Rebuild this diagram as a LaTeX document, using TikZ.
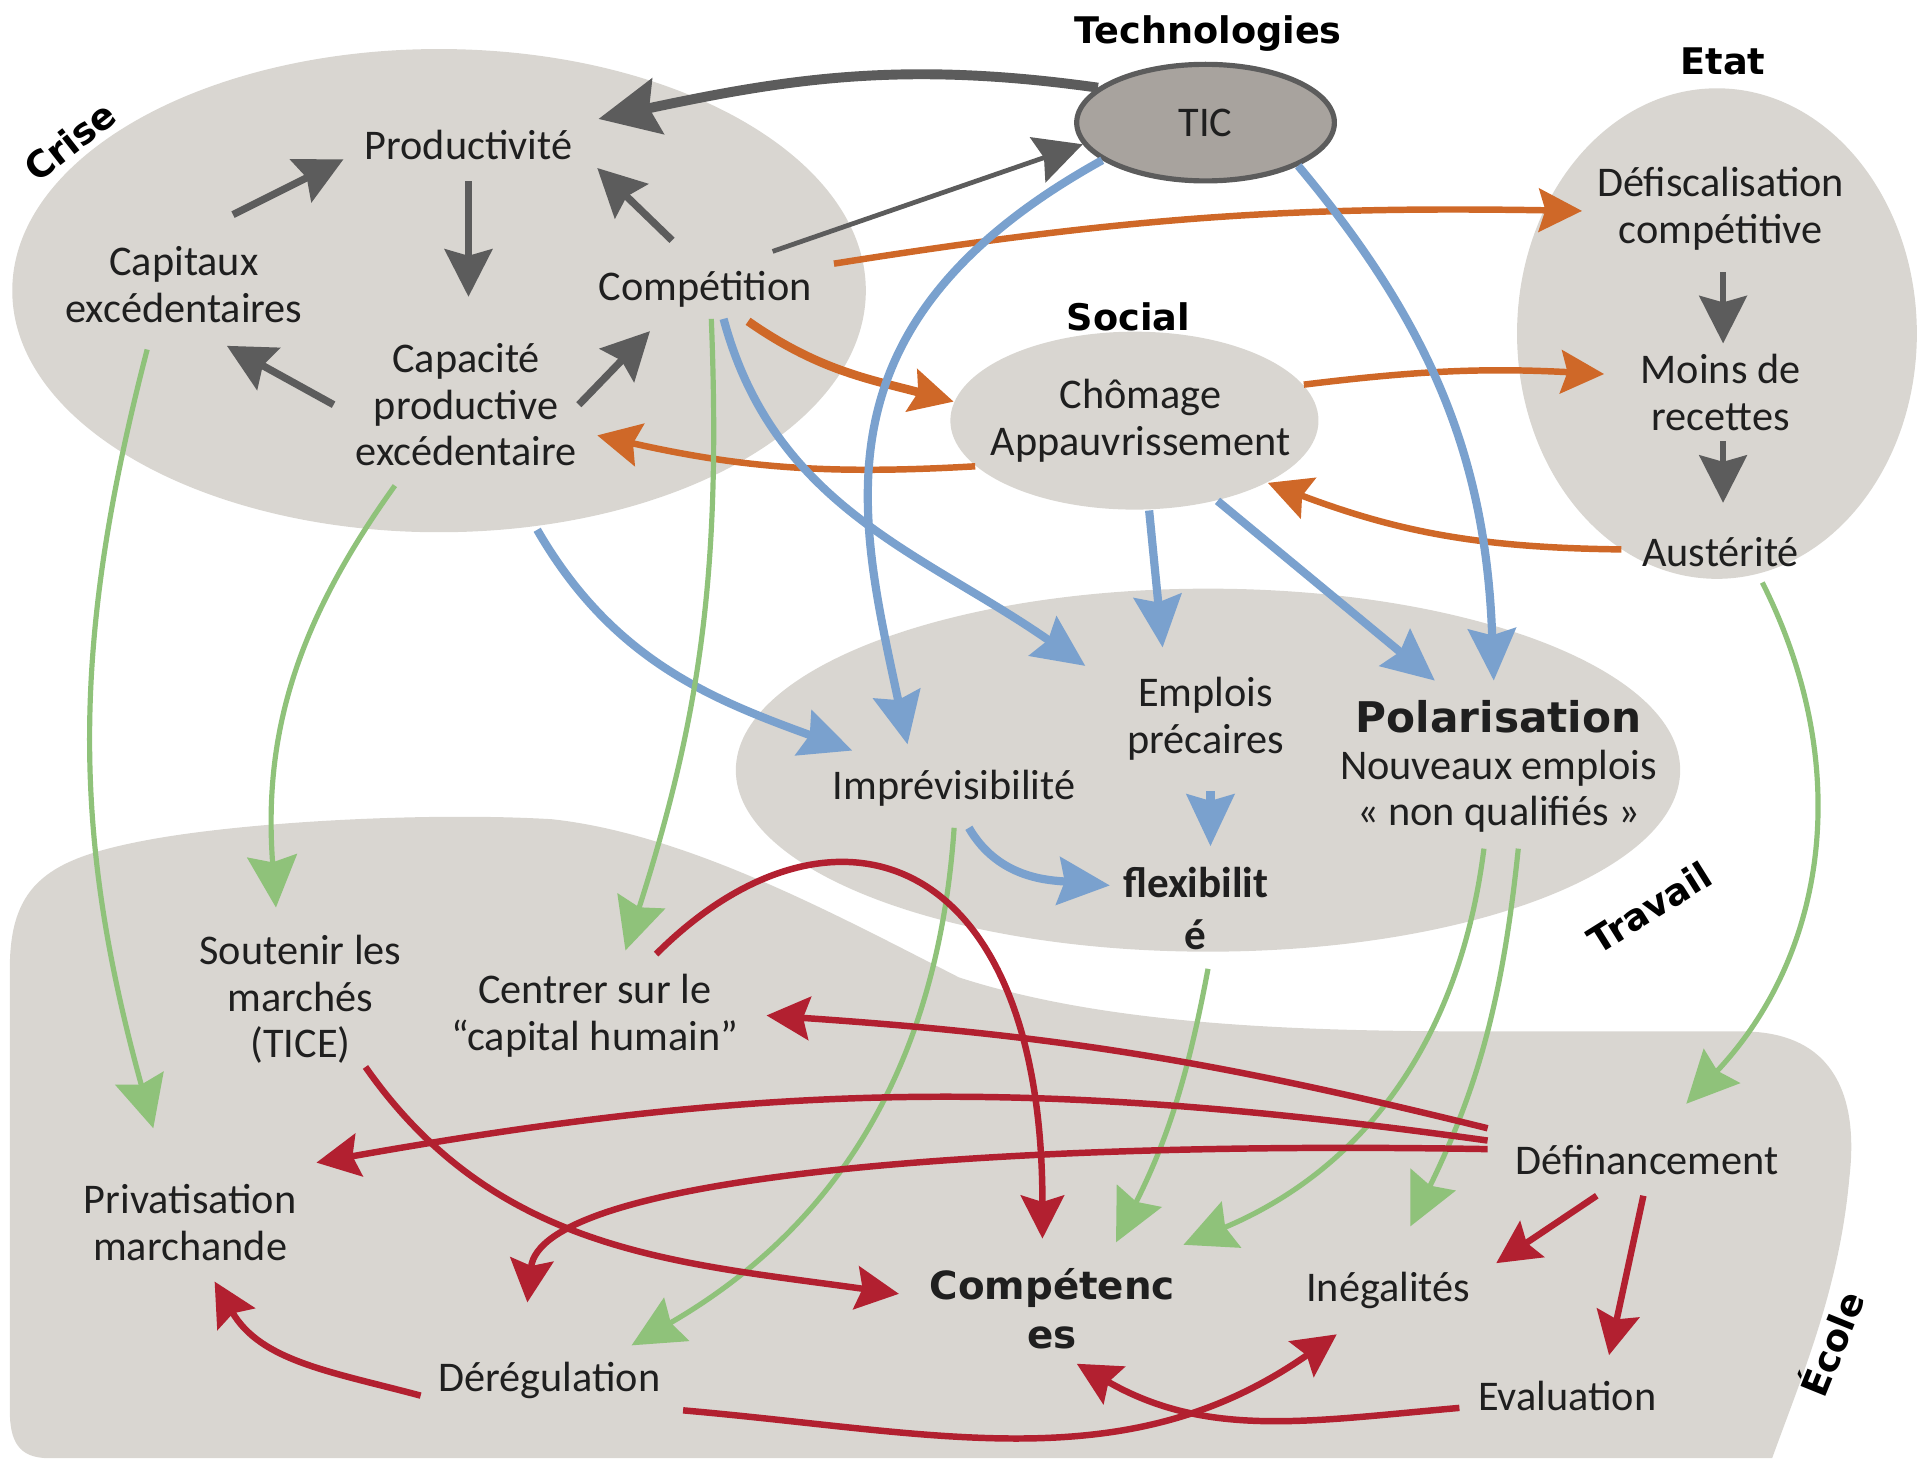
\documentclass[tikz,border=0pt]{standalone}
\usepackage{fontspec}
\setmainfont{Carlito}
\newfontfamily\titrefont{DejaVu Sans}
\usetikzlibrary{arrows.meta,shapes.geometric}
\definecolor{fondgris}{RGB}{217,214,209}
\definecolor{ticgris}{RGB}{168,163,158}
\definecolor{flechegris}{RGB}{92,92,92}
\definecolor{flecheorange}{RGB}{207,104,40}
\definecolor{flechebleu}{RGB}{122,161,206}
\definecolor{flechevert}{RGB}{143,194,122}
\definecolor{flecherouge}{RGB}{178,32,48}
\begin{document}
\begin{tikzpicture}[x=0.01cm, y=0.01cm,
  txt/.style={align=center, inner sep=1pt, text=black!88, font=\fontsize{9.8}{10.8}\selectfont},
  titre/.style={inner sep=0pt, font=\titrefont\bfseries\fontsize{8.5}{10}\selectfont},
  flgris/.style={draw=flechegris, line width=1.7pt, -{Stealth[length=11pt,width=11pt,inset=1.5pt]}},
  florange/.style={draw=flecheorange, line width=1.5pt, -{Stealth[length=10pt,width=10pt,inset=1.5pt]}},
  flbleu/.style={draw=flechebleu, line width=1.9pt, -{Stealth[length=12pt,width=11pt,inset=1.5pt]}},
  flvert/.style={draw=flechevert, line width=1.2pt, -{Stealth[length=12pt,width=11.5pt,inset=1.5pt]}},
  flrouge/.style={draw=flecherouge, line width=1.5pt, -{Stealth[length=10pt,width=10pt,inset=1.5pt]}}]
        \useasboundingbox (0,0) rectangle (1568,-1189);
        \fill[fondgris] (8,-1150) -- (8,-790) .. controls (8,-720) and (40,-700) .. (120,-685) .. controls (200,-670) and (350,-662) .. (450,-668) .. controls (560,-680) and (680,-745) .. (782,-797) .. controls (900,-835) and (1050,-841) .. (1208,-841) -- (1420,-841) .. controls (1500,-841) and (1515,-900) .. (1508,-960) .. controls (1500,-1050) and (1470,-1120) .. (1445,-1189) -- (40,-1189) .. controls (15,-1189) and (8,-1175) .. (8,-1150) -- cycle;
        \fill[fondgris] (985,-628) ellipse [x radius=385, y radius=148];
        \fill[fondgris] (358,-237) ellipse [x radius=348, y radius=197];
        \fill[fondgris] (1400,-272) ellipse [x radius=163, y radius=200];
        \node[ellipse, fill=fondgris, minimum width=3cm, minimum height=1.45cm, inner sep=0pt] (chom) at (925,-343) {};
        \node[ellipse, draw=flechegris, line width=1.2pt, fill=ticgris, minimum width=2.1cm, minimum height=0.95cm, inner sep=0pt, txt] (tic) at (983,-100) {TIC};

        \node[titre] (techno) at (985,-27) {Technologies};
        \node[titre] (etat) at (1405,-50) {Etat};
        \node[titre] (social) at (920,-258) {Social};
        \node[titre, rotate=38] (crise) at (57,-115) {Crise};
        \node[titre, rotate=32] (travail) at (1345,-740) {Travail};
        \node[titre, rotate=68] (ecole) at (1492,-1095) {École};

        \node[txt] (prod) at (382,-118) {Productivité};
        \node[txt] (capit) at (150,-232) {Capitaux\\excédentaires};
        \node[txt] (comp) at (575,-236) {Compétition};
        \node[txt] (capac) at (380,-330) {Capacité\\productive\\excédentaire};
        \node[txt] (defis) at (1403,-170) {Défiscalisation\\compétitive};
        \node[txt] (moins) at (1403,-320) {Moins de\\recettes};
        \node[txt] (aust) at (1403,-450) {Austérité};
        \node[txt] (chomtxt) at (930,-343) {Chômage\\Appauvrissement};
        \node[txt] (impr) at (778,-643) {Imprévisibilité};
        \node[txt] (empl) at (983,-586) {Emplois\\précaires};
        \node[txt] (polar) at (1222,-625) {{\titrefont\bfseries Polarisation}\\Nouveaux emplois\\« non qualifiés »};
        \node[txt, font=\bfseries\fontsize{10}{12}\selectfont] (flex) at (975,-741) {flexibilit\\é};
        \node[txt] (sout) at (245,-815) {Soutenir les\\marchés\\(TICE)};
        \node[txt] (centr) at (485,-828) {Centrer sur le\\“capital humain”};
        \node[txt] (priv) at (155,-997) {Privatisation\\marchande};
        \node[txt, font=\titrefont\bfseries\fontsize{9}{11.4}\selectfont] (compe) at (858,-1067) {Compétenc\\es};
        \node[txt] (ineg) at (1132,-1052) {Inégalités};
        \node[txt] (defin) at (1343,-946) {Définancement};
        \node[txt] (dereg) at (448,-1126) {Dérégulation};
        \node[txt] (eval) at (1278,-1138) {Evaluation};

        \draw[flgris, line width=2.3pt, -{Stealth[length=14pt,width=13pt,inset=2pt]}] (tic.162) to[out=172, in=12] ([shift={(106,21)}]prod.center);
        \draw[flgris] ([shift={(40,57)}]capit.center) -- ([shift={(-102,-12)}]prod.center);
        \draw[flgris] ([shift={(0,-30)}]prod.center) -- ([shift={(2,88)}]capac.center);
        \draw[flgris] ([shift={(-27,40)}]comp.center) -- ([shift={(105,-19)}]prod.center);
        \draw[flgris] ([shift={(-108,0)}]capac.center) -- ([shift={(35,-50)}]capit.center);
        \draw[flgris] ([shift={(92,0)}]capac.center) -- ([shift={(-45,-34)}]comp.center);
        \draw[flgris, line width=1.1pt] ([shift={(55,31)}]comp.center) -- (tic.190);
        \draw[flgris, line width=1.4pt] ([shift={(2,-52)}]defis.center) -- ([shift={(2,40)}]moins.center);
        \draw[flgris, line width=1.4pt] ([shift={(2,-40)}]moins.center) -- ([shift={(2,40)}]aust.center);

        \draw[florange] ([shift={(105,21)}]comp.center) to[bend left=5] ([shift={(-113,-2)}]defis.center);
        \draw[florange, line width=2pt] ([shift={(35,-26)}]comp.center) to[out=-35, in=165] (chom.174);
        \draw[florange] (chom.196) to[bend left=8] ([shift={(107,-25)}]capac.center);
        \draw[florange] (chom.12) to[bend left=5] ([shift={(-95,15)}]moins.center);
        \draw[florange] ([shift={(-81,2)}]aust.center) to[bend left=10] (chom.-25);

        \draw[flbleu] (tic.200) to[out=209, in=102, out looseness=1.4, in looseness=0.97] ([shift={(-38,36)}]impr.center);
        \draw[flbleu] (tic.-25) to[out=-50, in=92] ([shift={(-4,70)}]polar.center);
        \draw[flbleu] ([shift={(15,-24)}]comp.center) to[out=-75, in=145] ([shift={(-98,43)}]empl.center);
        \draw[flbleu] ([shift={(58,-102)}]capac.center) to[out=-60, in=160] ([shift={(-83,31)}]impr.center);
        \draw[flbleu] ([shift={(12,0)}]chom.south) -- ([shift={(-35,58)}]empl.center);
        \draw[flbleu] (chom.-44) -- ([shift={(-52,70)}]polar.center);
        \draw[flbleu] ([shift={(4,-59)}]empl.center) -- ([shift={(12,51)}]flex.center);
        \draw[flbleu] ([shift={(12,-32)}]impr.center) to[out=-60, in=175] ([shift={(-70,19)}]flex.center);

        \draw[flvert] ([shift={(-30,-53)}]capit.center) to[bend right=15] ([shift={(-30,77)}]priv.center);
        \draw[flvert] ([shift={(-58,-66)}]capac.center) to[bend right=20] ([shift={(-20,75)}]sout.center);
        \draw[flvert] ([shift={(5,-24)}]comp.center) to[bend left=10] ([shift={(25,53)}]centr.center);
        \draw[flvert] ([shift={(0,-32)}]impr.center) to[bend left=28] ([shift={(67,29)}]dereg.center);
        \draw[flvert] ([shift={(10,-49)}]flex.center) to[bend left=8] ([shift={(52,54)}]compe.center);
        \draw[flvert] ([shift={(-12,-67)}]polar.center) to[bend left=30] ([shift={(107,52)}]compe.center);
        \draw[flvert] ([shift={(16,-67)}]polar.center) to[bend left=10] ([shift={(18,52)}]ineg.center);
        \draw[flvert] ([shift={(34,-25)}]aust.center) to[bend left=35] ([shift={(32,46)}]defin.center);

        \draw[flrouge] ([shift={(50,50)}]centr.center) to[out=45, in=90, out looseness=1.3, in looseness=2.1] ([shift={(-8,57)}]compe.center);
        \draw[flrouge] ([shift={(-130,26)}]defin.center) to[bend right=5] ([shift={(140,0)}]centr.center);
        \draw[flrouge] ([shift={(-130,16)}]defin.center) to[bend right=9] ([shift={(103,49)}]priv.center);
        \draw[flrouge] ([shift={(-130,9)}]defin.center) to[out=179, in=84, out looseness=1.33, in looseness=0.33] ([shift={(-18,64)}]dereg.center);
        \draw[flrouge] ([shift={(53,-55)}]sout.center) to[out=-55, in=172] ([shift={(-125,12)}]compe.center);
        \draw[flrouge] ([shift={(-41,-29)}]defin.center) -- ([shift={(88,22)}]ineg.center);
        \draw[flrouge] ([shift={(-3,-29)}]defin.center) -- ([shift={(34,33)}]eval.center);
        \draw[flrouge] ([shift={(-105,-12)}]dereg.center) to[out=165, in=-60] ([shift={(20,-48)}]priv.center);
        \draw[flrouge] ([shift={(-88,-10)}]eval.center) to[out=185, in=-30] ([shift={(20,-45)}]compe.center);
        \draw[flrouge] ([shift={(109,-24)}]dereg.center) to[out=-5, in=215] ([shift={(-42,-36)}]ineg.center);
\end{tikzpicture}
\end{document}
